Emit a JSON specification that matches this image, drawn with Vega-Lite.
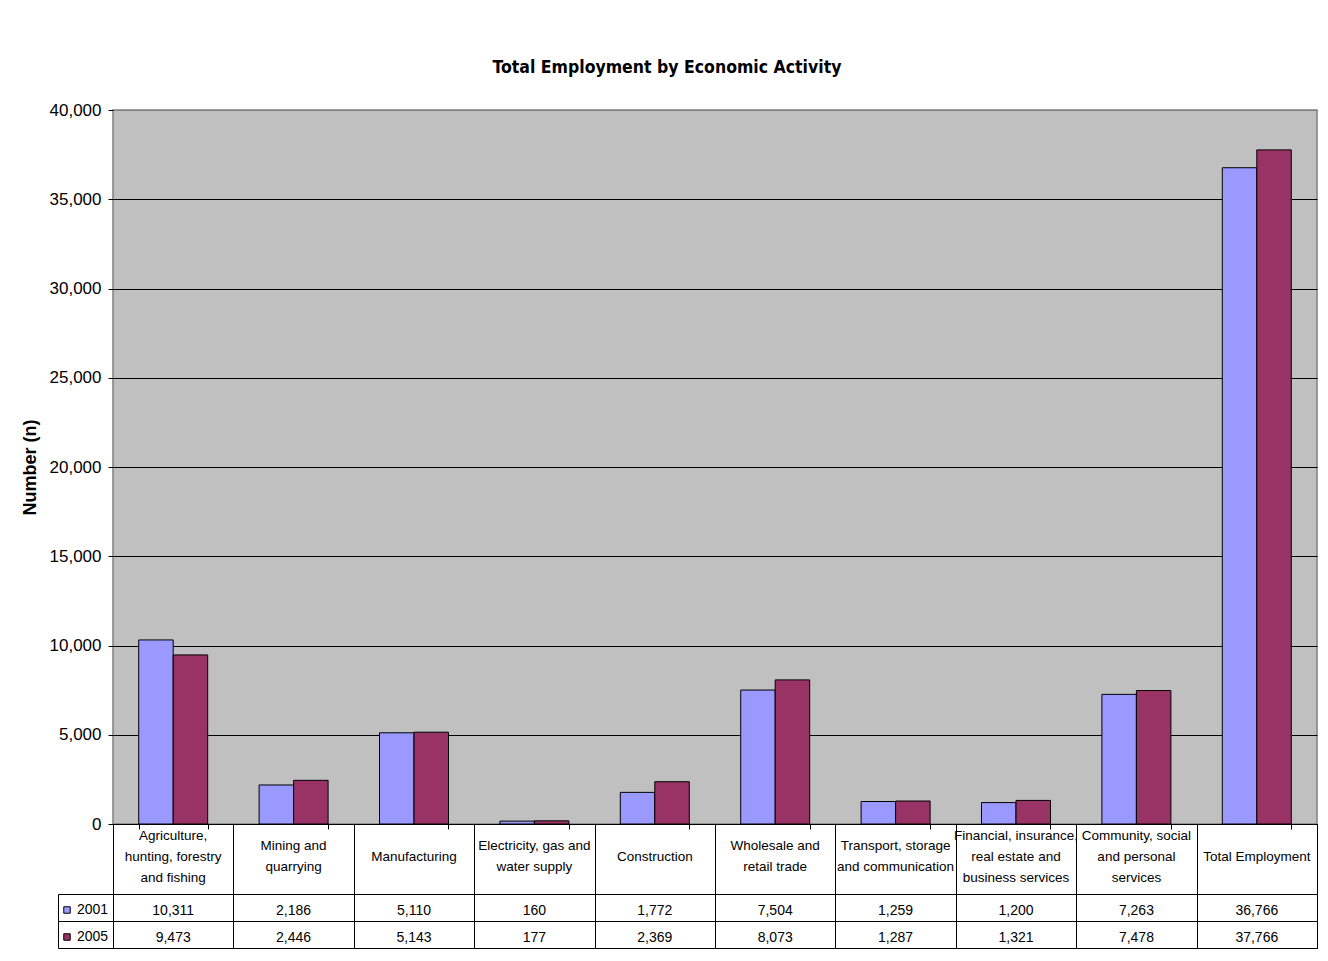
{
  "$schema": "https://vega.github.io/schema/vega-lite/v6.json",
  "autosize": "none",
  "padding": {"left": 113, "top": 110, "right": 1215, "bottom": 851},
  "background": "white",
  "config": {
    "font": "Liberation Sans",
    "view": {"stroke": "black", "strokeWidth": 1},
    "axis": {"labelFont": "Liberation Sans", "titleFont": "Liberation Sans"},
    "legend": {"labelFont": "Liberation Sans"}
  },
  "data": {
    "values": [
      {"activity": "Agriculture, hunting, forestry and fishing", "label": "Agriculture,\nhunting, forestry\nand fishing", "year": "2001", "count": 10311},
      {"activity": "Agriculture, hunting, forestry and fishing", "label": "Agriculture,\nhunting, forestry\nand fishing", "year": "2005", "count": 9473},
      {"activity": "Mining and quarrying", "label": "Mining and\nquarrying", "year": "2001", "count": 2186},
      {"activity": "Mining and quarrying", "label": "Mining and\nquarrying", "year": "2005", "count": 2446},
      {"activity": "Manufacturing", "label": "Manufacturing", "year": "2001", "count": 5110},
      {"activity": "Manufacturing", "label": "Manufacturing", "year": "2005", "count": 5143},
      {"activity": "Electricity, gas and water supply", "label": "Electricity, gas and\nwater supply", "year": "2001", "count": 160},
      {"activity": "Electricity, gas and water supply", "label": "Electricity, gas and\nwater supply", "year": "2005", "count": 177},
      {"activity": "Construction", "label": "Construction", "year": "2001", "count": 1772},
      {"activity": "Construction", "label": "Construction", "year": "2005", "count": 2369},
      {"activity": "Wholesale and retail trade", "label": "Wholesale and\nretail trade", "year": "2001", "count": 7504},
      {"activity": "Wholesale and retail trade", "label": "Wholesale and\nretail trade", "year": "2005", "count": 8073},
      {"activity": "Transport, storage and communication", "label": "Transport, storage\nand communication", "year": "2001", "count": 1259},
      {"activity": "Transport, storage and communication", "label": "Transport, storage\nand communication", "year": "2005", "count": 1287},
      {"activity": "Financial, insurance, real estate and business services", "label": "Financial, insurance,\nreal estate and\nbusiness services", "year": "2001", "count": 1200},
      {"activity": "Financial, insurance, real estate and business services", "label": "Financial, insurance,\nreal estate and\nbusiness services", "year": "2005", "count": 1321},
      {"activity": "Community, social and personal services", "label": "Community, social\nand personal\nservices", "year": "2001", "count": 7263},
      {"activity": "Community, social and personal services", "label": "Community, social\nand personal\nservices", "year": "2005", "count": 7478},
      {"activity": "Total Employment", "label": "Total Employment", "year": "2001", "count": 36766},
      {"activity": "Total Employment", "label": "Total Employment", "year": "2005", "count": 37766}
    ]
  },
  "bounds": "flush",
  "spacing": 0,
  "resolve": {"scale": {"x": "independent", "y": "independent"}},
  "vconcat": [
    {
      "title": {
        "text": "Total Employment by Economic Activity",
        "font": "DejaVu Sans Condensed, Liberation Sans",
        "fontSize": 17.5,
        "fontWeight": "bold",
        "color": "black",
        "offset": 25,
        "dx": -48
      },
      "width": 1204,
      "height": 714,
      "view": {"fill": "#C0C0C0", "stroke": "#808080", "strokeWidth": 1.5},
      "mark": {"type": "bar", "stroke": "black", "strokeWidth": 1},
      "encoding": {
        "x": {
          "field": "activity",
          "type": "nominal",
          "sort": null,
          "scale": {"paddingInner": 0.427, "paddingOuter": 0.2135},
          "axis": {"labels": false, "title": null, "domain": false, "ticks": true, "tickBand": "extent", "tickSize": 5, "tickColor": "black"}
        },
        "xOffset": {"field": "year", "type": "nominal", "scale": {"paddingInner": 0, "paddingOuter": 0}},
        "y": {
          "field": "count",
          "type": "quantitative",
          "scale": {"domain": [0, 40000], "nice": false},
          "axis": {
            "values": [0, 5000, 10000, 15000, 20000, 25000, 30000, 35000, 40000],
            "format": ",d",
            "title": "Number (n)",
            "titleFontSize": 18,
            "titleFontWeight": "bold",
            "titleColor": "black",
            "titlePadding": 10,
            "labelFontSize": 17,
            "labelColor": "black",
            "labelPadding": 7,
            "tickSize": 5,
            "tickColor": "black",
            "domain": false,
            "grid": true,
            "gridColor": {"condition": {"test": "datum.value === 40000", "value": "#808080"}, "value": "black"},
            "gridWidth": 1
          }
        },
        "color": {
          "field": "year",
          "type": "nominal",
          "scale": {"domain": ["2001", "2005"], "range": ["#9999FF", "#993366"]},
          "legend": {
            "orient": "none",
            "legendX": -53,
            "legendY": 793,
            "title": null,
            "padding": 0,
            "rowPadding": 13,
            "symbolType": "square",
            "symbolSize": 42,
            "symbolStrokeColor": "black",
            "symbolStrokeWidth": 1,
            "labelFontSize": 14,
            "labelColor": "black",
            "labelOffset": 3
          }
        }
      }
    },
    {
      "width": 1204,
      "height": 70,
      "transform": [
        {"filter": "datum.year === '2001'"},
        {"calculate": "length(split(datum.label, '\\n'))", "as": "lineCount"}
      ],
      "encoding": {
        "x": {
          "field": "activity",
          "type": "nominal",
          "sort": [
            "Agriculture, hunting, forestry and fishing",
            "Mining and quarrying",
            "Manufacturing",
            "Electricity, gas and water supply",
            "Construction",
            "Wholesale and retail trade",
            "Transport, storage and communication",
            "Financial, insurance, real estate and business services",
            "Community, social and personal services",
            "Total Employment"
          ],
          "scale": {"paddingInner": 0, "paddingOuter": 0},
          "axis": {"labels": false, "title": null, "domain": false, "ticks": false, "tickBand": "extent", "grid": true, "gridColor": "black", "gridWidth": 1}
        },
        "text": {"field": "label"}
      },
      "layer": [
        {
          "transform": [{"filter": "datum.lineCount === 1"}],
          "mark": {"type": "text", "lineBreak": "\n", "fontSize": 13.5, "lineHeight": 21, "color": "black", "baseline": "middle", "dy": -2}
        },
        {
          "transform": [{"filter": "datum.lineCount === 2"}],
          "mark": {"type": "text", "lineBreak": "\n", "fontSize": 13.5, "lineHeight": 21, "color": "black", "baseline": "middle", "dy": -13}
        },
        {
          "transform": [{"filter": "datum.lineCount === 3"}],
          "mark": {"type": "text", "lineBreak": "\n", "fontSize": 13.5, "lineHeight": 21, "color": "black", "baseline": "middle", "dy": -23}
        }
      ]
    },
    {
      "width": 1204,
      "height": 54,
      "mark": {"type": "text", "fontSize": 14, "color": "black", "baseline": "middle", "dy": 3},
      "encoding": {
        "x": {
          "field": "activity",
          "type": "nominal",
          "sort": null,
          "scale": {"paddingInner": 0, "paddingOuter": 0},
          "axis": {"labels": false, "title": null, "domain": false, "ticks": false, "tickBand": "extent", "grid": true, "gridColor": "black", "gridWidth": 1}
        },
        "y": {
          "field": "year",
          "type": "nominal",
          "scale": {"domain": ["2001", "2005"], "paddingInner": 0, "paddingOuter": 0},
          "axis": {"labels": false, "title": null, "offset": 55, "domain": true, "domainColor": "black", "domainWidth": 1, "ticks": true, "tickBand": "extent", "tickSize": -55, "tickColor": "black", "grid": true, "gridColor": "black", "gridWidth": 1}
        },
        "text": {"field": "count", "type": "quantitative", "format": ","}
      }
    }
  ]
}
